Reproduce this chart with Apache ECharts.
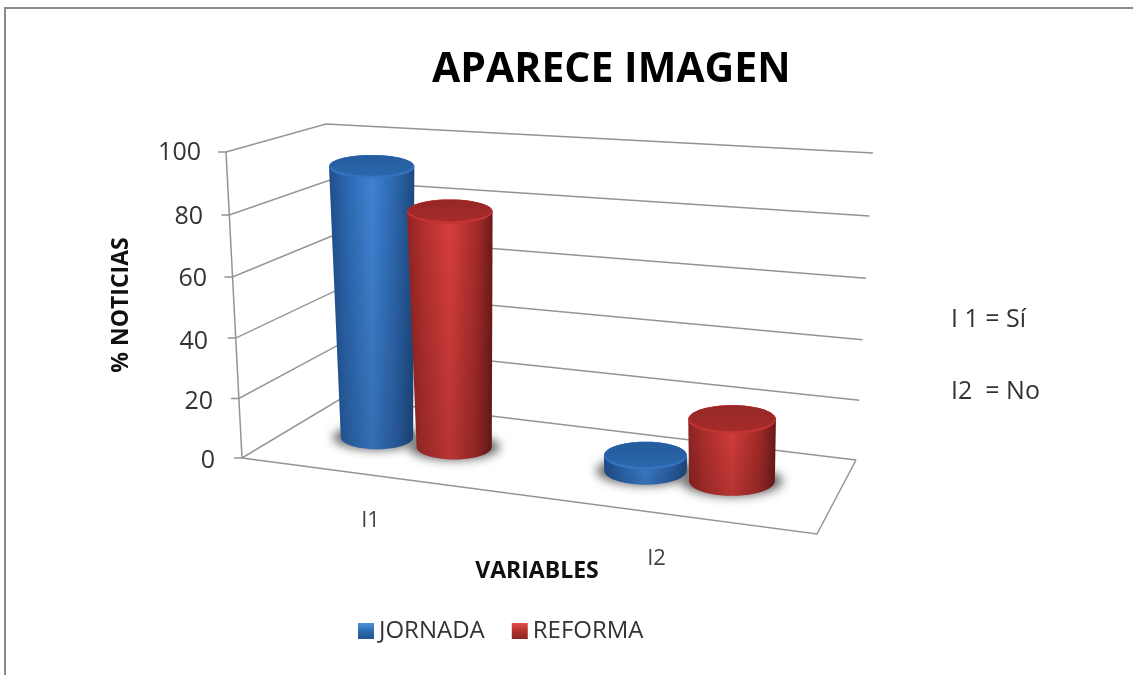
<!DOCTYPE html>
<html><head><meta charset="utf-8">
<style>html,body{margin:0;padding:0;background:#fff}#c{width:1133px;height:675px}</style>
<script src="https://cdn.jsdelivr.net/npm/echarts@6/dist/echarts.min.js"></script>
</head><body><div id="c"></div>
<script>
const categories = ['I1', 'I2'];
const jornada = [92, 5];
const reforma = [79, 20];
const yTicks = [0, 20, 40, 60, 80, 100];

// 3D box used to project the axes' pixel positions
const FONT = '"Open Sans","Noto Sans",sans-serif';
const GRID = {left: 226, top: 152, width: 622, height: 306};
const floorQuad = [[242,458],[817,534],[856,460],[342,398]];
const topQuad   = [[226,152],[834,191],[873,153],[326,124]];
const BAR_DEPTH = 0.5, BAR_OFFSET = 0.148, BAR_RADIUS = 0.15, PERSP = 0.035, LEAN = 0.33, CAT_SCALE = 0.99;

function homography(q){
  const [[x0,y0],[x1,y1],[x2,y2],[x3,y3]] = q;
  const dx1=x1-x2,dx2=x3-x2,sx=x0-x1+x2-x3,dy1=y1-y2,dy2=y3-y2,sy=y0-y1+y2-y3;
  const den=dx1*dy2-dx2*dy1, g=(sx*dy2-dx2*sy)/den, h=(dx1*sy-sx*dy1)/den;
  const a=x1-x0+g*x1,b=x3-x0+h*x3,d=y1-y0+g*y1,e=y3-y0+h*y3;
  return (u,t)=>{const w=g*u+h*t+1;return [(a*u+b*t+x0)/w,(d*u+e*t+y0)/w];};
}
const floorH = homography(floorQuad), topH = homography(topQuad);
function warp(u,v,d){
  const f = v/(1+PERSP*(1-v));
  const a = floorH(u,d), b = topH(u,d);
  return [a[0]+(b[0]-a[0])*f, a[1]+(b[1]-a[1])*f];
}
function norm(api,x,y){
  const p = api.coord([x,y]);
  return [(p[0]-GRID.left)/GRID.width,(GRID.top+GRID.height-p[1])/GRID.height];
}
function ellipsePts(cx,cy,rx,ry,a0,a1,n){
  const pts=[];
  for(let i=0;i<=n;i++){const t=a0+(a1-a0)*i/n;pts.push([cx+rx*Math.cos(t),cy+ry*Math.sin(t)]);}
  return pts;
}
const LG = (stops,x2,y2)=>new echarts.graphic.LinearGradient(0,0,x2,y2,stops.map(c=>({offset:c[0],color:c[1]})));
const PALETTE = {
  JORNADA:{body:[[0,'#1f4f8c'],[.18,'#2b65ad'],[.5,'#3f84d6'],[.82,'#2a62a8'],[1,'#1e4a80']],
           disc:[[0,'#255c9c'],[1,'#2a67ab']],rim:'#3474c0',z:10},
  REFORMA:{body:[[0,'#8f2523'],[.18,'#b22f2d'],[.5,'#d93f3c'],[.82,'#a52b29'],[1,'#6d1b1a']],
           disc:[[0,'#962726'],[1,'#a52b29']],rim:'#c23431',z:20}
};
const OFF = 3000;
function cylinder(name,offsetSign){
  const pal=PALETTE[name];
  return function(params,api){
    const n=norm(api,api.value(0),api.value(1));
    const u=n[0]*CAT_SCALE+offsetSign*BAR_OFFSET/2, v=n[1];
    const d=BAR_DEPTH;
    const x0=warp(u,0,d)[0], x1=warp(u,1,d)[0], xm=(x0+x1)/2;
    const mk=(lv)=>{
      const c=warp(u,lv,d);
      c[0]=xm+(lv-.5)*(x1-x0)*LEAN;
      const l=warp(u-BAR_RADIUS/2,lv,d), r=warp(u+BAR_RADIUS/2,lv,d);
      const rx=(r[0]-l[0])/2*(1+Math.max(0,.8-u)*(lv*.3-.1));
      return {c,rx,ry:rx*(0.27+0.07*(c[1]-150)/330)};
    };
    const b=mk(0), t=mk(v);
    const body=ellipsePts(t.c[0],t.c[1],t.rx,t.ry,Math.PI,2*Math.PI,24)
      .concat(ellipsePts(b.c[0],b.c[1],b.rx,b.ry,0,Math.PI,24));
    return {type:'group',children:[
      {type:'polygon',z2:1,silent:true,shape:{points:ellipsePts(b.c[0]-OFF,b.c[1],b.rx+8,b.ry+1,0,2*Math.PI,40)},
       style:{fill:'#888',shadowBlur:10,shadowColor:'rgba(105,105,105,.95)',shadowOffsetX:OFF}},
      {type:'polygon',z2:pal.z,shape:{points:body},style:{fill:LG(pal.body,1,0)}},
      {type:'polygon',z2:pal.z+1,shape:{points:body},style:{fill:LG([[0,'rgba(0,0,0,0)'],[1,'rgba(0,0,0,.16)']],0,1)}},
      {type:'polygon',z2:pal.z+2,shape:{points:ellipsePts(t.c[0],t.c[1],t.rx,t.ry,0,2*Math.PI,40)},style:{fill:pal.rim}},
      {type:'polygon',z2:pal.z+3,shape:{points:ellipsePts(t.c[0],t.c[1]-1,t.rx-1,t.ry-1.5,0,2*Math.PI,40)},style:{fill:LG(pal.disc,0,1)}}
    ]};
  };
}
function wallItem(params,api){
  const v=norm(api,0,api.value(1))[1];
  const LS={stroke:'#949494',lineWidth:1.5,fill:null};
  const front=warp(0,v,0), back=warp(0,v,1), right=warp(1,v,1);
  const children=[
    {type:'polyline',z2:0,silent:true,shape:{points:[[front[0]-8,front[1]],front,back,right]},style:LS}
  ];
  if(v===0){
    children.push({type:'polyline',z2:0,silent:true,shape:{points:[warp(0,0,0),warp(1,0,0),warp(1,0,1)]},style:LS});
    children.push({type:'polyline',z2:0,silent:true,shape:{points:[warp(0,0,0),warp(0,1,0)]},style:LS});
  }
  return {type:'group',children};
}
const yLabelPad={0:[6,11,0,0],20:[10,13,0,0],40:[12,18,0,0],60:[9,19,0,0],80:[8,23,0,0],100:[2,25,0,0]};
const yRich={};
yTicks.forEach(t=>{yRich['t'+t]={padding:yLabelPad[t],fontSize:25,fontFamily:FONT,color:'#333'};});
const xRich={
  a:{padding:[52,22,0,0],fontSize:22,fontFamily:FONT,color:'#444'},
  b:{padding:[90,72,0,0],fontSize:22,fontFamily:FONT,color:'#444'}
};
const chart=echarts.init(document.getElementById('c'),null,{renderer:'canvas'});
chart.setOption({
  animation:false,
  backgroundColor:'#fff',
  title:{text:'APARECE IMAGEN',left:427,top:45,textStyle:{fontFamily:FONT,fontSize:41,fontWeight:'bold',color:'#000'}},
  legend:{left:353,top:614,itemWidth:16,itemHeight:16,itemGap:27,icon:'rect',
    data:[
      {name:'JORNADA',itemStyle:{color:LG([[0,'#4f93e0'],[.45,'#2f6db5'],[1,'#23558f']],0,1)}},
      {name:'REFORMA',itemStyle:{color:LG([[0,'#e0504c'],[.45,'#b8322f'],[1,'#8a2523']],0,1)}}
    ],textStyle:{fontFamily:FONT,fontSize:24,color:'#333'}},
  grid:GRID,
  xAxis:{type:'category',data:categories,axisLine:{show:false},axisTick:{show:false},
    name:'VARIABLES',nameLocation:'middle',nameGap:102,nameMoveOverlap:false,
    nameTextStyle:{fontFamily:FONT,fontWeight:'bold',fontSize:23,color:'#111'},
    axisLabel:{interval:0,margin:0,formatter:(v,i)=>`{${i?'b':'a'}|${v}}`,rich:xRich}},
  yAxis:{type:'value',min:0,max:100,interval:20,splitLine:{show:false},axisLine:{show:false},axisTick:{show:false},
    name:'% NOTICIAS',nameLocation:'middle',nameGap:93,
    nameTextStyle:{fontFamily:FONT,fontWeight:'bold',fontSize:23,color:'#111'},
    axisLabel:{margin:0,formatter:v=>`{t${v}|${v}}`,rich:yRich}},
  graphic:[
    {type:'rect',silent:true,shape:{x:4,y:7,width:1129,height:2},style:{fill:'#8a8a8a'}},
    {type:'rect',silent:true,shape:{x:4,y:7,width:2,height:668},style:{fill:'#8a8a8a'}},
    {type:'text',left:951,top:307,style:{text:'I 1 = Sí',font:'25px '+FONT,fill:'#333'}},
    {type:'text',left:951,top:379,style:{text:'I2  = No',font:'25px '+FONT,fill:'#333'}}
  ],
  series:[
    {name:'axes',type:'custom',coordinateSystem:'cartesian2d',clip:false,renderItem:wallItem,silent:true,
     data:yTicks.map(t=>[0,t])},
    {name:'JORNADA',type:'custom',coordinateSystem:'cartesian2d',clip:false,renderItem:cylinder('JORNADA',-1),
     itemStyle:{color:'#2f6db5'},data:jornada.map((v,i)=>[i,v])},
    {name:'REFORMA',type:'custom',coordinateSystem:'cartesian2d',clip:false,renderItem:cylinder('REFORMA',1),
     itemStyle:{color:'#b8322f'},data:reforma.map((v,i)=>[i,v])}
  ]
});
</script></body></html>
